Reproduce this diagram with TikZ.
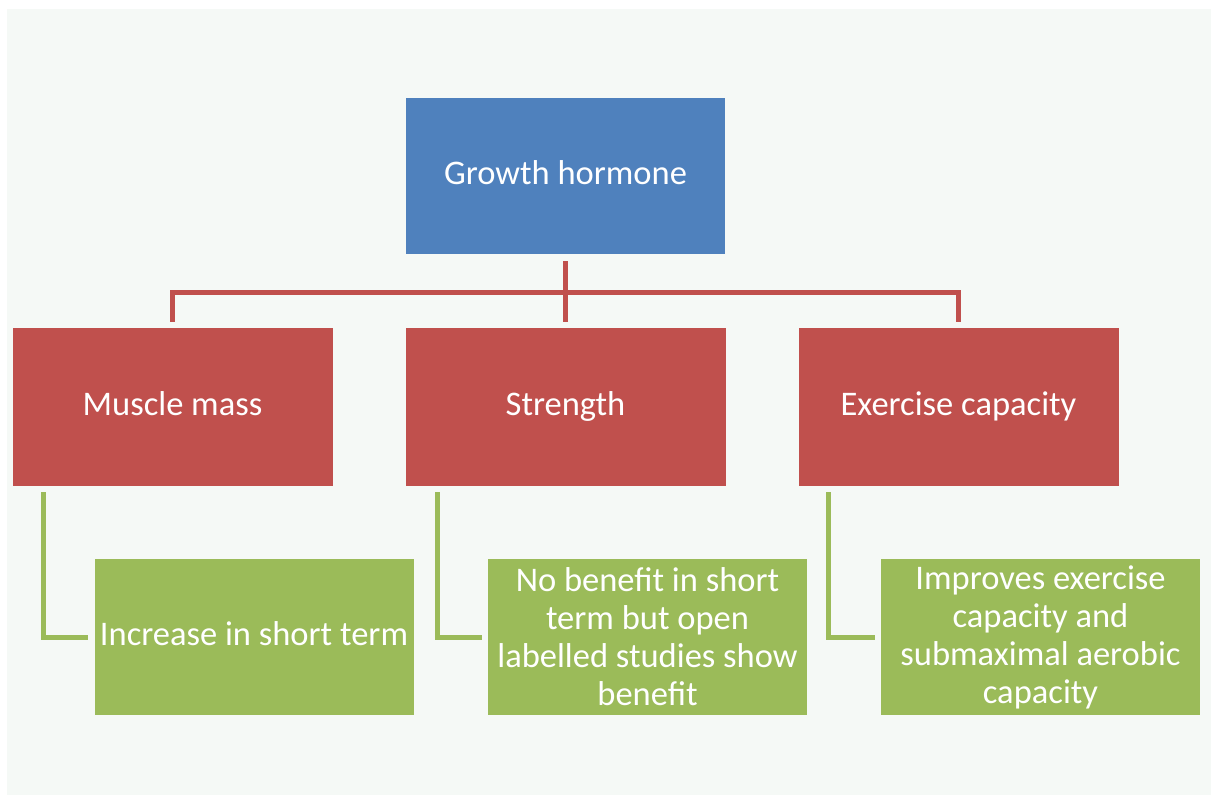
\documentclass[tikz,border=0pt]{standalone}
\usepackage{fontspec}
\setmainfont{Carlito}
\definecolor{bgc}{HTML}{F5F9F6}
\definecolor{bluec}{HTML}{4F81BD}
\definecolor{redc}{HTML}{C0504D}
\definecolor{greenc}{HTML}{9BBB59}
\begin{document}
\begin{tikzpicture}[x=1pt,y=-1pt,
  box/.style={rectangle, inner sep=0pt, text=white, align=center,
    font=\fontsize{34.5}{38}\selectfont},
  oneline/.style={text height=23pt, text depth=7pt},
  topbox/.style={box, oneline, fill=bluec, minimum width=319pt, minimum height=156pt},
  midbox/.style={box, oneline, fill=redc, minimum width=320pt, minimum height=158pt},
  lowbox/.style={box, fill=greenc, minimum width=319pt, minimum height=156pt},
  redline/.style={draw=redc, line width=5pt},
  greenline/.style={draw=greenc, line width=5pt}]
\useasboundingbox (0,0) rectangle (1211,796);
\fill[white] (0,0) rectangle (1211,796);
\fill[bgc] (7,9) rectangle (1211,795);

\node[topbox] (gh) at (565.5,176) {Growth hormone};
\node[midbox] (mm) at (172.5,407) {Muscle mass};
\node[midbox] (st) at (565.5,407) {Strength};
\node[midbox] (ex) at (958.5,407) {Exercise capacity};
\node[lowbox, oneline] (g1) at (254,637) {Increase in short term};
\node[lowbox] (g2) at (647.5,637) {No benefit in short\\term but open\\labelled studies show\\benefit};
\node[lowbox] (g3) at (1040.5,637) {Improves exercise\\capacity and\\submaximal aerobic\\capacity};

\coordinate (bus) at (565.5,292);
\coordinate (mmt) at ([yshift=6pt]mm.north);
\coordinate (ext) at ([yshift=6pt]ex.north);
\draw[redline] ([yshift=-7pt]gh.south) -- ([yshift=6pt]st.north);
\draw[redline] (mmt) -- (mmt |- bus) -- (ext |- bus) -- (ext);

\coordinate (c1) at (43,492);
\coordinate (c2) at (437,492);
\coordinate (c3) at (828,492);
\draw[greenline] (c1) |- ([xshift=-6pt]g1.west);
\draw[greenline] (c2) |- ([xshift=-6pt]g2.west);
\draw[greenline] (c3) |- ([xshift=-6pt]g3.west);
\end{tikzpicture}
\end{document}
